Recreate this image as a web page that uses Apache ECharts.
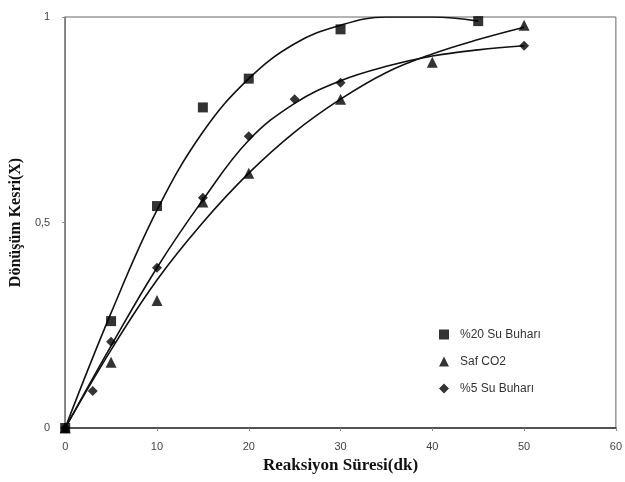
<!DOCTYPE html>
<html>
<head>
<meta charset="utf-8">
<script src="https://cdn.jsdelivr.net/npm/echarts@6/dist/echarts.min.js"></script>
<style>
  html, body { margin: 0; padding: 0; background: #fff; overflow: hidden; }
  #chart { width: 625px; height: 482px; }
</style>
</head>
<body>
<div id="chart"></div>
<script>
// olculen noktalar
const su20X = [0, 5, 10, 15, 20, 30, 45];
const su20Y = [0, 0.26, 0.54, 0.78, 0.85, 0.97, 0.99];
const co2X = [0, 5, 10, 15, 20, 30, 40, 50];
const co2Y = [0, 0.16, 0.31, 0.55, 0.62, 0.80, 0.89, 0.98];
const su5X = [0, 3, 5, 10, 15, 20, 25, 30, 50];
const su5Y = [0, 0.09, 0.21, 0.39, 0.56, 0.71, 0.80, 0.84, 0.93];

// egilim egrileri
const curve20X = [0, 5, 10, 15, 20, 25, 30, 35, 40, 45];
const curve20Y = [0, 0.28, 0.53, 0.72, 0.85, 0.935, 0.98, 1.0, 1.0, 0.99];
const curveCo2X = [0, 5, 10, 15, 20, 25, 30, 35, 40, 45, 50];
const curveCo2Y = [0, 0.19, 0.36, 0.50, 0.62, 0.72, 0.80, 0.865, 0.91, 0.945, 0.975];
const curve5X = [0, 5, 10, 15, 20, 25, 30, 35, 40, 45, 50];
const curve5Y = [0, 0.20, 0.39, 0.555, 0.70, 0.79, 0.845, 0.88, 0.905, 0.92, 0.93];

const names = ['%20 Su Buharı', 'Saf CO2', '%5 Su Buharı'];
const yTicks = { 0: '0', 0.5: '0,5', 1: '1' };

const zip = (xs, ys) => xs.map((x, i) => [x, ys[i]]);

const chart = echarts.init(document.getElementById('chart'));

const curve = (xs, ys) => ({
    type: 'line',
    data: zip(xs, ys),
    smooth: 0.4,
    showSymbol: false,
    silent: true,
    lineStyle: { color: '#111', width: 1.6 },
    z: 1
});

const points = (name, xs, ys, symbol, size) => ({
    name: name,
    type: 'scatter',
    data: zip(xs, ys),
    symbol: symbol,
    symbolSize: size,
    itemStyle: { color: '#000' },
    z: 3
});

chart.setOption({
    animation: false,
    backgroundColor: '#fff',
    grid: {
        left: 61, right: 5, top: 17, bottom: 54,
        show: true, borderColor: '#666', borderWidth: 1
    },
    legend: {
        orient: 'vertical',
        left: 439, top: 327,
        padding: 0,
        itemGap: 12,
        itemWidth: 10, itemHeight: 10,
        textStyle: {
            fontFamily: 'Liberation Sans', fontSize: 12, color: '#333',
            padding: [0, 0, 0, 6], lineHeight: 15
        },
        data: names
    },
    xAxis: {
        type: 'value',
        min: 0, max: 60, interval: 10,
        name: 'Reaksiyon Süresi(dk)',
        nameLocation: 'middle',
        nameGap: 29,
        nameTextStyle: { fontFamily: 'Liberation Serif', fontWeight: 'bold', fontSize: 17, color: '#111' },
        axisLine: { lineStyle: { color: '#333', width: 1.5 } },
        axisTick: { show: true, length: 3, lineStyle: { color: '#888' } },
        axisLabel: { margin: 13, fontFamily: 'Liberation Sans', fontSize: 11, color: '#444' },
        splitLine: { show: false }
    },
    yAxis: {
        type: 'value',
        min: 0, max: 1, interval: 0.5,
        name: 'Dönüşüm Kesri(X)',
        nameLocation: 'middle',
        nameGap: 36,
        nameTextStyle: { fontFamily: 'Liberation Serif', fontWeight: 'bold', fontSize: 16, color: '#111' },
        axisLine: { show: true, lineStyle: { color: '#777', width: 1.5 } },
        axisTick: { show: true, length: 3, lineStyle: { color: '#888' } },
        axisLabel: {
            margin: 15, fontFamily: 'Liberation Sans', fontSize: 11, color: '#444',
            formatter: v => yTicks[v] !== undefined ? yTicks[v] : ''
        },
        splitLine: { show: false }
    },
    series: [
        curve(curve20X, curve20Y),
        curve(curveCo2X, curveCo2Y),
        curve(curve5X, curve5Y),
        points(names[0], su20X, su20Y, 'rect', 10),
        points(names[1], co2X, co2Y, 'triangle', 11),
        points(names[2], su5X, su5Y, 'diamond', 10)
    ]
});
</script>
</body>
</html>
